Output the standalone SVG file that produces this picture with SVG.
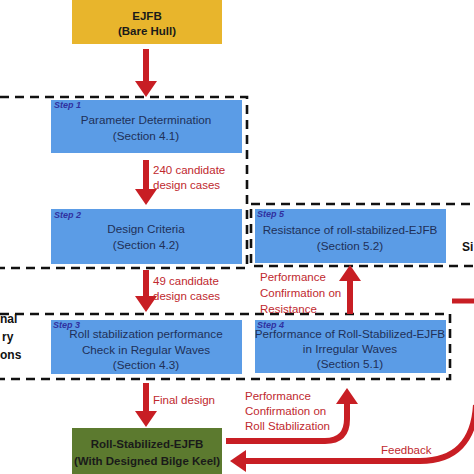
<svg xmlns="http://www.w3.org/2000/svg" width="474" height="474" viewBox="0 0 474 474">
<defs>
<marker id="ah" viewBox="0 0 16 22" markerUnits="userSpaceOnUse" markerWidth="16" markerHeight="22" refX="1" refY="11" orient="auto">
<path d="M0,0 L16,11 L0,22 z" fill="#C81E24"/>
</marker>
<style>
.box{fill:#5B9CE6}
.t{font-family:"Liberation Sans",Arial,sans-serif;font-size:11.7px;fill:#1F3058;text-anchor:middle}
.b{font-family:"Liberation Sans",Arial,sans-serif;font-size:11.5px;font-weight:bold;fill:#1a1a1a;text-anchor:middle}
.s{font-family:"Liberation Sans",Arial,sans-serif;font-size:9px;font-weight:bold;font-style:italic;fill:#3030A0}
.r{font-family:"Liberation Sans",Arial,sans-serif;font-size:11.5px;fill:#C0282E}
.k{font-family:"Liberation Sans",Arial,sans-serif;font-size:12px;font-weight:bold;fill:#111}
.dash{fill:none;stroke:#111;stroke-width:2.6;stroke-dasharray:9,6}
.arr{fill:none;stroke:#C81E24;stroke-width:6;marker-end:url(#ah)}
</style>
</defs>
<rect width="474" height="474" fill="#fff"/>
<g id="groups">
<rect class="dash" x="-30" y="97" width="277" height="171"/>
<rect class="dash" x="251" y="204" width="260" height="62"/>
<rect class="dash" x="-30" y="314" width="480" height="65"/>
</g>
<g id="n0"><rect x="72" y="0" width="150" height="44" fill="#E8B52C"/>
<text class="b" x="147" y="20">EJFB</text><text class="b" x="147" y="35">(Bare Hull)</text></g>
<g id="n1"><rect class="box" x="51" y="100" width="191" height="53"/>
<text class="s" x="54" y="108">Step 1</text>
<text class="t" x="146" y="124">Parameter Determination</text><text class="t" x="146" y="140">(Section 4.1)</text></g>
<g id="n2"><rect class="box" x="51" y="209" width="191" height="55"/>
<text class="s" x="54" y="218">Step 2</text>
<text class="t" x="146" y="233">Design Criteria</text><text class="t" x="146" y="249">(Section 4.2)</text></g>
<g id="n3"><rect class="box" x="51" y="320" width="191" height="54"/>
<text class="s" x="53" y="327.5">Step 3</text>
<text class="t" x="146" y="338">Roll stabilization performance</text><text class="t" x="146" y="354">Check in Regular Waves</text><text class="t" x="146" y="369">(Section 4.3)</text></g>
<g id="n4"><rect class="box" x="255" y="320" width="191" height="53"/>
<text class="s" x="257" y="327.5">Step 4</text>
<text class="t" x="350" y="338">Performance of Roll-Stabilized-EJFB</text><text class="t" x="350" y="353">in Irregular Waves</text><text class="t" x="350" y="368">(Section 5.1)</text></g>
<g id="n5"><rect class="box" x="255" y="209" width="191" height="54"/>
<text class="s" x="257" y="217">Step 5</text>
<text class="t" x="350" y="234">Resistance of roll-stabilized-EJFB</text><text class="t" x="350" y="250">(Section 5.2)</text></g>
<g id="n6"><rect x="72" y="428" width="150" height="46" fill="#5C7A2F"/>
<text class="b" x="147" y="448">Roll-Stabilized-EJFB</text><text class="b" x="147" y="465">(With Designed Bilge Keel)</text></g>
<g id="side">
<text class="k" x="462" y="251">Si</text>
<text class="k" x="0" y="323">nal</text>
<text class="k" x="2" y="341">ry</text>
<text class="k" x="0" y="359">ons</text>
</g>
<g id="connectors">
<path class="arr" d="M146,49 V82"/>
<path class="arr" d="M146,160 V190"/>
<path class="arr" d="M146,270 V297"/>
<path class="arr" d="M146,383 V412"/>
<path class="arr" d="M350,314 V280"/>
<path class="arr" d="M226,441 H325 Q347,441 347,419 V403"/>
<path class="arr" d="M476,405 C474,440 456,461 420,461 H245"/>
<path d="M452,301 H474" stroke="#C81E24" stroke-width="5" fill="none"/>
<text class="r" x="153" y="174">240 candidate</text>
<text class="r" x="153" y="189">design cases</text>
<text class="r" x="153" y="285">49 candidate</text>
<text class="r" x="153" y="300">design cases</text>
<text class="r" x="153" y="404">Final design</text>
<text class="r" x="260" y="281">Performance</text>
<text class="r" x="260" y="297">Confirmation on</text>
<text class="r" x="260" y="313">Resistance</text>
<text class="r" x="245" y="400">Performance</text>
<text class="r" x="245" y="415">Confirmation on</text>
<text class="r" x="245" y="430">Roll Stabilization</text>
<text class="r" x="381" y="454">Feedback</text>
</g>
</svg>
